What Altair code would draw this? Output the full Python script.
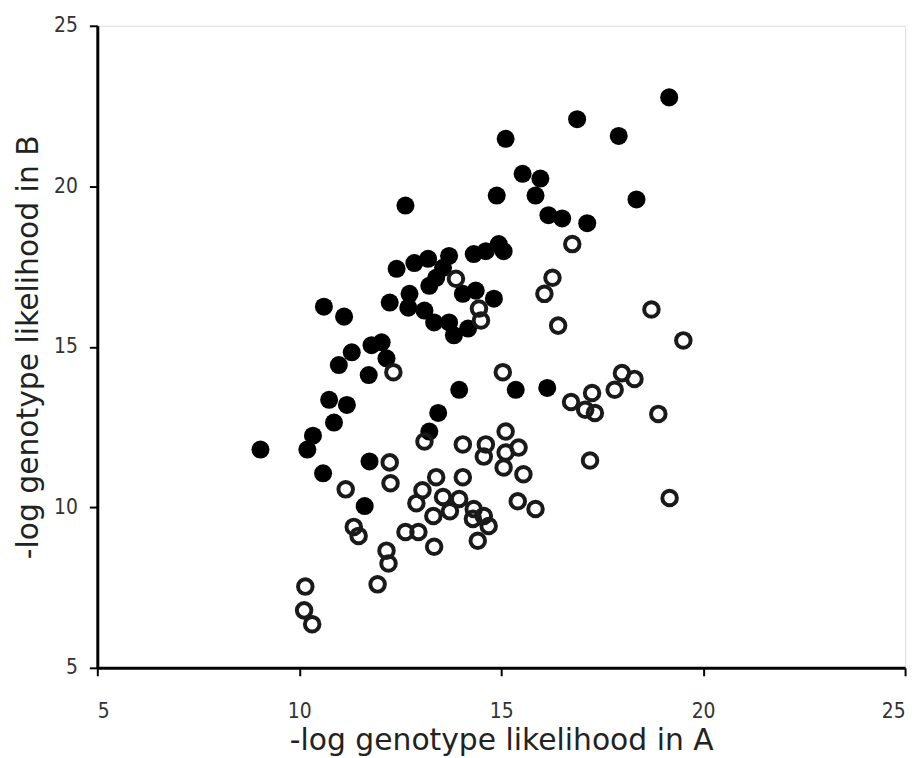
import altair as alt
import pandas as pd

# Filled (black) points
filled_x = [9.04, 10.20, 10.34, 10.59, 10.61, 11.11, 10.74, 11.18, 10.86, 10.98,
            11.30, 11.79, 12.04, 12.16, 11.72, 11.74, 11.62, 12.63, 12.41, 12.85,
            13.19, 13.71, 13.56, 13.39, 13.22, 14.32, 14.62, 14.94, 15.06, 14.05,
            14.37, 14.82, 12.24, 12.73, 12.70, 13.10, 13.34, 13.71, 13.83, 14.18,
            14.89, 15.11, 15.53, 15.97, 15.85, 16.17, 16.51, 17.13, 16.88, 17.91,
            18.35, 19.16, 13.22, 13.44, 13.96, 15.36, 16.14]
filled_y = [11.80, 11.80, 12.23, 11.06, 16.25, 15.94, 13.35, 13.19, 12.64, 14.43,
            14.83, 15.05, 15.14, 14.64, 14.12, 11.43, 10.04, 19.40, 17.43, 17.61,
            17.74, 17.83, 17.46, 17.15, 16.90, 17.89, 17.98, 18.20, 17.98, 16.65,
            16.75, 16.50, 16.38, 16.65, 16.22, 16.13, 15.76, 15.76, 15.36, 15.57,
            19.71, 21.48, 20.39, 20.24, 19.71, 19.10, 19.00, 18.85, 22.09, 21.57,
            19.59, 22.77, 12.36, 12.94, 13.66, 13.66, 13.72]

# Open (ring) points
open_x = [13.88, 14.45, 14.50, 12.33, 12.24, 12.26, 11.15, 13.10, 14.05, 14.62,
          14.57, 15.11, 15.43, 15.11, 15.06, 15.55, 13.39, 14.05, 13.05, 12.90,
          13.56, 13.96, 13.73, 13.32, 14.32, 14.30, 14.57, 14.69, 14.42, 13.34,
          12.63, 12.95, 15.41, 15.85, 16.76, 16.27, 16.07, 16.41, 18.72, 19.51,
          17.99, 18.30, 17.81, 17.25, 16.73, 17.08, 17.32, 18.89, 17.20, 15.04,
          19.17, 11.35, 11.47, 12.16, 12.21, 11.94, 10.15, 10.12, 10.32]
open_y = [17.12, 16.19, 15.82, 14.21, 11.40, 10.75, 10.56, 12.05, 11.96, 11.96,
          11.58, 12.36, 11.86, 11.71, 11.24, 11.03, 10.94, 10.94, 10.53, 10.13,
          10.32, 10.26, 9.88, 9.73, 9.95, 9.64, 9.73, 9.42, 8.96, 8.77,
          9.23, 9.23, 10.19, 9.95, 18.20, 17.15, 16.65, 15.66, 16.16, 15.20,
          14.18, 14.00, 13.66, 13.56, 13.28, 13.04, 12.94, 12.91, 11.46, 14.21,
          10.29, 9.39, 9.11, 8.65, 8.25, 7.60, 7.53, 6.79, 6.36]

axis_ticks = [5, 10, 15, 20, 25]

df_f = pd.DataFrame({"a": filled_x, "b": filled_y})
df_o = pd.DataFrame({"a": open_x, "b": open_y})

xs = alt.Scale(domain=[5, 25], nice=False, zero=False)
ys = alt.Scale(domain=[5, 25], nice=False, zero=False)

label_font = "'DejaVu Sans Condensed', 'Liberation Sans', sans-serif"
title_font = "DejaVu Sans"

x_axis = alt.Axis(values=axis_ticks, title="-log genotype likelihood in A",
                  grid=False, domainColor="black", domainWidth=3,
                  tickColor="black", tickWidth=2, tickSize=8,
                  labelFont=label_font, labelFontSize=21, labelColor="#333",
                  labelPadding=25, titleFont=title_font, titleFontSize=30,
                  titleFontWeight="normal", titleColor="#222", titlePadding=4)
y_axis = alt.Axis(values=axis_ticks, title="-log genotype likelihood in B",
                  grid=False, domainColor="black", domainWidth=3,
                  tickColor="black", tickWidth=2, tickSize=8,
                  labelFont=label_font, labelFontSize=21, labelColor="#333",
                  labelPadding=12, titleFont=title_font, titleFontSize=30,
                  titleFontWeight="normal", titleColor="#222", titlePadding=10)

filled = alt.Chart(df_f).mark_point(shape="circle", filled=True, color="black",
                                     size=330, opacity=1).encode(
    x=alt.X("a:Q", scale=xs, axis=x_axis),
    y=alt.Y("b:Q", scale=ys, axis=y_axis),
)
rings = alt.Chart(df_o).mark_point(shape="circle", filled=False, color="#1a1a1a",
                                    size=215, strokeWidth=4, opacity=1).encode(
    x=alt.X("a:Q", scale=xs),
    y=alt.Y("b:Q", scale=ys),
)

chart = alt.layer(filled, rings).properties(
    width=814, height=647,
    autosize=alt.AutoSizeParams(type="none"),
    padding={"left": 90, "top": 15, "right": 9, "bottom": 96},
).configure_view(stroke="black", strokeWidth=2.5).configure(background="white")

chart.save("out.html", embed_options={"renderer": "svg", "actions": False})
